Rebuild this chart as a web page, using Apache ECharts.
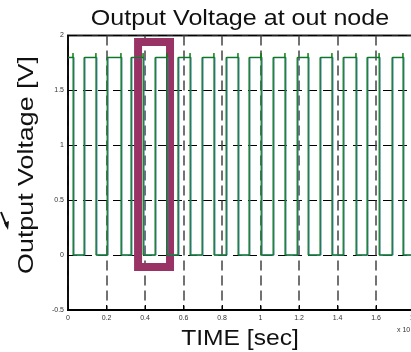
<!DOCTYPE html>
<html>
<head>
<meta charset="utf-8">
<script src="https://cdn.jsdelivr.net/npm/echarts@6/dist/echarts.min.js"></script>
<style>
  html, body { margin: 0; padding: 0; background: #fff; }
  #chart { width: 411px; height: 352px; }
</style>
</head>
<body>
<div id="chart"></div>
<script>
// Switching edges of the output node (time in units of 1e-9 s)
const fallTimes = [0.026, 0.145, 0.275, 0.390, 0.514, 0.634, 0.758, 0.883, 1.003, 1.127, 1.247, 1.371, 1.496, 1.616, 1.740];
const riseTimes = [0.083, 0.203, 0.327, 0.452, 0.571, 0.696, 0.821, 0.940, 1.065, 1.190, 1.309, 1.429, 1.553, 1.683];
// Second trace switches slightly later
const lagTimes = 0.004;
const highLevel = 1.8;
const lowLevel = 0;
const fallSpike = 1.84;
const tEnd = 1.8;

// Highlighted interval (frame drawn around one pulse)
const frameX = [0.364, 0.530];
const frameY = [-0.108, 1.94];

const xTickLabels = ['0', '0.2', '0.4', '0.6', '0.8', '1', '1.2', '1.4', '1.6', '1.8'];
const yTickLabels = ['-0.5', '0', '0.5', '1', '1.5', '2'];

function buildWave(falls, rises, shift, spike) {
  const ev = [];
  falls.forEach(t => ev.push({ t: t + shift, up: false }));
  rises.forEach(t => ev.push({ t: t + shift, up: true }));
  ev.sort((a, b) => a.t - b.t);
  const pts = [[0, highLevel]];
  ev.forEach(e => {
    if (e.up) {
      pts.push([e.t, lowLevel], [e.t, highLevel]);
    } else {
      pts.push([e.t, highLevel]);
      if (spike != null) pts.push([e.t, spike]);
      pts.push([e.t, lowLevel]);
    }
  });
  const last = pts[pts.length - 1][1];
  pts.push([tEnd, last]);
  return pts;
}

const greenTrace = buildWave(fallTimes, riseTimes, 0, fallSpike);
const blueTrace = buildWave(fallTimes, riseTimes, lagTimes, null);

const chart = echarts.init(document.getElementById('chart'), null, { renderer: 'canvas' });
const font = '"Liberation Sans", Arial, sans-serif';

chart.setOption({
  animation: false,
  backgroundColor: '#fff',
  // plot box runs slightly past the right edge of the canvas
  grid: {
    left: 68, top: 35.5, width: 346.5, height: 274.5,
    containLabel: false, outerBoundsMode: 'none',
    show: true, borderColor: '#222', borderWidth: 2, backgroundColor: 'transparent'
  },
  xAxis: {
    type: 'value', min: 0, max: 1.8, interval: 0.2,
    axisLine: { show: true, onZero: false, lineStyle: { color: '#000', width: 2 } },
    axisTick: { show: true, inside: true, length: 5, lineStyle: { color: '#000' } },
    axisLabel: {
      fontSize: 7, color: '#333', fontFamily: font, margin: 5,
      formatter: (v) => xTickLabels[Math.round(v / 0.2)] ?? ''
    },
    splitLine: { show: true, lineStyle: { color: '#444', width: 1.5, type: [10, 5] } }
  },
  yAxis: {
    type: 'value', min: -0.5, max: 2, interval: 0.5,
    axisLine: { show: true, onZero: false, lineStyle: { color: '#000', width: 1.5 } },
    axisTick: { show: true, inside: true, length: 3, lineStyle: { color: '#000' } },
    axisLabel: {
      fontSize: 7, color: '#333', fontFamily: font, margin: 4,
      formatter: (v) => yTickLabels[Math.round((v + 0.5) / 0.5)] ?? ''
    },
    splitLine: { show: true, lineStyle: { color: '#000', width: 1, type: [9, 6] } }
  },
  series: [{
    type: 'line', data: blueTrace, showSymbol: false, z: 3,
    lineStyle: { color: '#3a7a9a', width: 1.5 }
  }, {
    type: 'line', data: greenTrace, showSymbol: false, z: 4,
    lineStyle: { color: '#0a7d0a', width: 1 },
    markArea: {
      silent: true,
      itemStyle: { color: 'rgba(0,0,0,0)', borderColor: '#993366', borderWidth: 8 },
      data: [[{ coord: [frameX[0], frameY[1]] }, { coord: [frameX[1], frameY[0]] }]]
    }
  }],
  graphic: [
    {
      type: 'text', x: 240, y: 18.5, scaleX: 1.14, z: 10,
      style: { text: 'Output Voltage at out node', font: '22px ' + font, fill: '#111', textAlign: 'center', textVerticalAlign: 'middle' }
    },
    {
      type: 'text', x: 240, y: 339, scaleX: 1.12, z: 10,
      style: { text: 'TIME [sec]', font: '22px ' + font, fill: '#111', textAlign: 'center', textVerticalAlign: 'middle' }
    },
    {
      type: 'text', x: 27, y: 165, rotation: Math.PI / 2, scaleX: 1.22, z: 10,
      style: { text: 'Output Voltage [V]', font: '22px ' + font, fill: '#111', textAlign: 'center', textVerticalAlign: 'middle' }
    },
    {
      type: 'text', x: 397, y: 330, z: 10,
      style: { text: 'x 10', font: '7px ' + font, fill: '#333', textAlign: 'left', textVerticalAlign: 'middle' }
    },
    {
      type: 'polyline', z: 10,
      shape: { points: [[1, 212], [7, 227]] },
      style: { stroke: '#111', lineWidth: 2, fill: null }
    },
    {
      type: 'polygon', z: 10,
      shape: { points: [[4, 223], [9, 221], [8, 230]] },
      style: { fill: '#111' }
    }
  ]
});
</script>
</body>
</html>
